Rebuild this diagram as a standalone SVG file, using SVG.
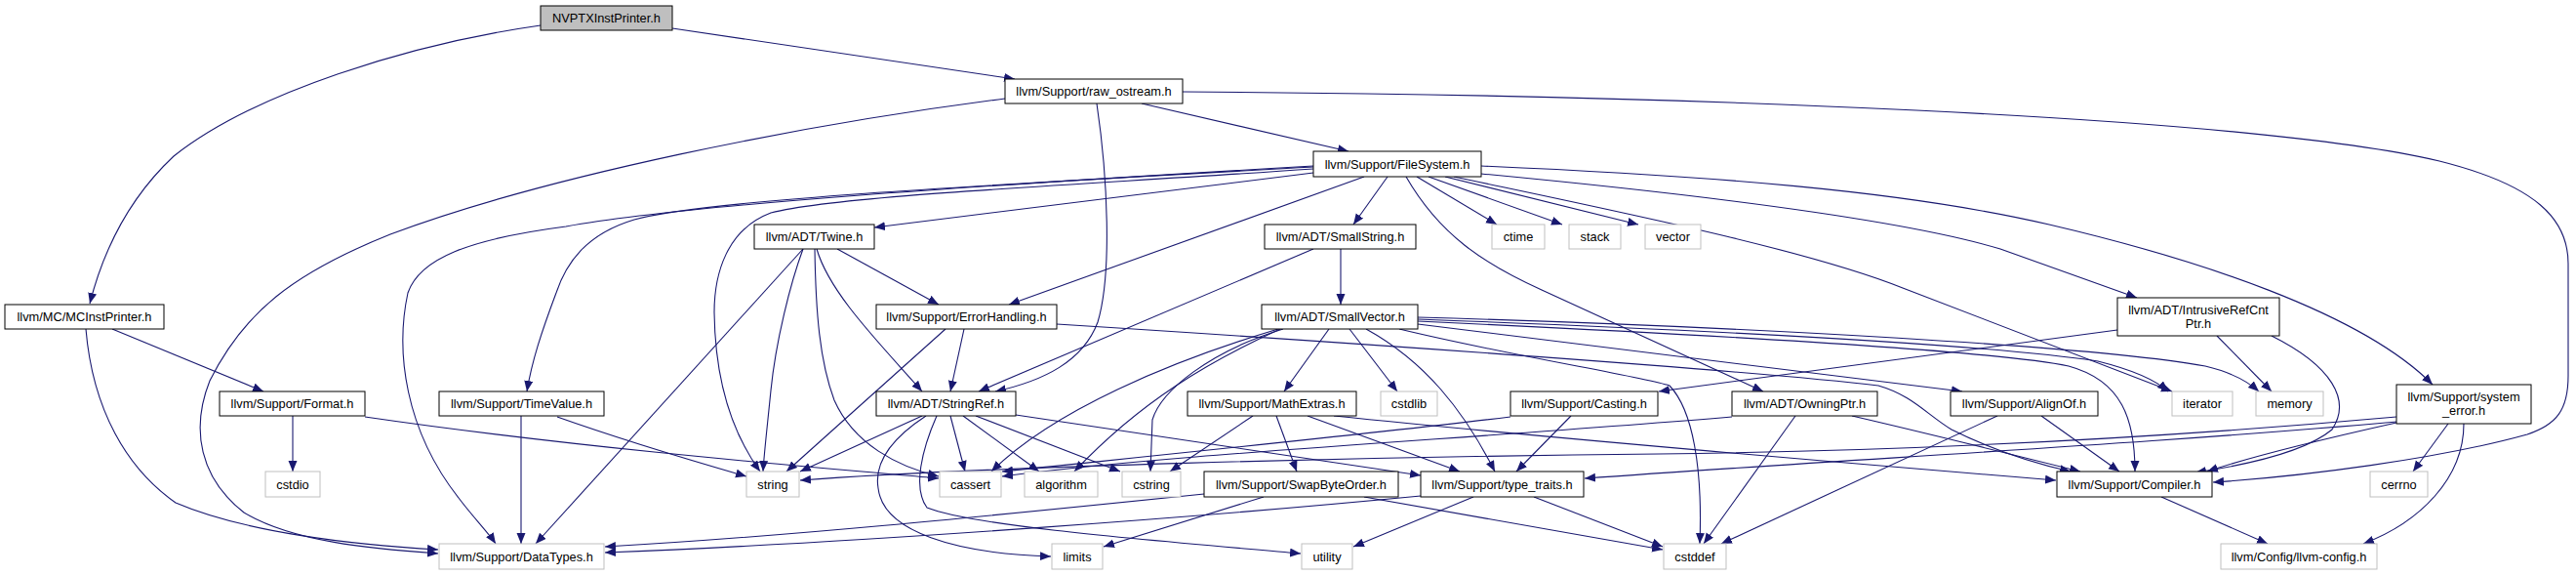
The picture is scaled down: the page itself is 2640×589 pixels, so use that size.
<svg xmlns="http://www.w3.org/2000/svg" width="2640" height="589" viewBox="0 0 2640 589">
<style>
.e{fill:none;stroke:#191970;stroke-width:1.1;marker-end:url(#a)}
.n rect{fill:#fff;stroke:#000;stroke-width:1}
.g rect{fill:#fff;stroke:#bfbfbf;stroke-width:1}
.r rect{fill:#bfbfbf;stroke:#000;stroke-width:1}
text{font-family:"Liberation Sans",Arial,sans-serif;font-size:12.8px;text-anchor:middle;fill:#000}
</style>
<defs>
<marker id="a" markerUnits="userSpaceOnUse" markerWidth="12" markerHeight="10" refX="11" refY="4.5" orient="auto">
<path d="M0,0 L11,4.5 L0,9 z" fill="#191970"/>
</marker>
</defs>
<rect width="2640" height="589" fill="#fff"/>
<g id="edges">
<path class="e" d="M554,26 C420,45 260,95 178,160 C130,205 105,260 92,311"/>
<path class="e" d="M689,29 L1040,81"/>
<path class="e" d="M1030,101 C820,128 560,180 400,240 C300,280 250,320 215,390 C195,440 205,490 250,525 C300,555 380,562 449,567"/>
<path class="e" d="M1124,106 C1135,180 1140,280 1125,330 C1110,370 1070,390 1020,401"/>
<path class="e" d="M1170,106 L1382,155"/>
<path class="e" d="M1212,94 C1700,97 2300,118 2500,165 C2600,190 2632,225 2632,270 L2632,385 C2632,420 2620,435 2590,445 C2500,470 2360,488 2268,494"/>
<path class="e" d="M115,337 L270,401"/>
<path class="e" d="M88,337 C95,420 130,480 180,515 C250,545 360,558 449,563"/>
<path class="e" d="M300,426 L300,483"/>
<path class="e" d="M374,427 C600,460 850,480 962,490"/>
<path class="e" d="M534,426 L534,557"/>
<path class="e" d="M571,427 C650,455 720,475 765,488"/>
<path class="e" d="M1346,170 C1000,190 700,210 580,232 C480,245 430,265 418,300 C405,360 415,440 470,510 C485,530 500,545 508,557"/>
<path class="e" d="M1346,171 C1000,190 720,205 650,225 C600,240 580,270 570,300 C555,340 545,370 540,401"/>
<path class="e" d="M1346,173 C1100,190 860,200 790,218 C745,235 732,280 732,320 C733,400 755,450 779,483"/>
<path class="e" d="M1346,177 L896,233"/>
<path class="e" d="M1398,181 L1034,312"/>
<path class="e" d="M1422,181 L1387,230"/>
<path class="e" d="M1452,181 L1534,230"/>
<path class="e" d="M1464,181 L1601,230"/>
<path class="e" d="M1481,181 L1679,230"/>
<path class="e" d="M1441,181 C1475,240 1520,270 1580,297 L1807,401"/>
<path class="e" d="M1490,181 C1650,215 1850,255 1950,295 L2226,401"/>
<path class="e" d="M1518,178 C1750,200 1950,225 2050,255 L2190,305"/>
<path class="e" d="M1518,170 C1750,180 1950,195 2100,230 C2250,265 2420,320 2493,394"/>
<path class="e" d="M823,255 C810,290 795,350 790,400 C786,440 783,465 782,483"/>
<path class="e" d="M823,255 L549,557"/>
<path class="e" d="M835,255 C836,320 840,370 855,410 C875,455 920,478 962,488"/>
<path class="e" d="M837,255 C850,300 900,350 945,401"/>
<path class="e" d="M858,255 L962,312"/>
<path class="e" d="M969,337 L806,483"/>
<path class="e" d="M988,337 L974,401"/>
<path class="e" d="M1083,332 C1400,352 1800,380 1925,395 C1960,405 1975,425 2000,440 C2050,465 2100,478 2122,483"/>
<path class="e" d="M1374,255 L1374,312"/>
<path class="e" d="M1346,255 L1003,401"/>
<path class="e" d="M1310,337 C1200,370 1080,420 1016,483"/>
<path class="e" d="M1312,337 C1240,370 1170,410 1101,483"/>
<path class="e" d="M1315,337 C1240,360 1190,400 1181,430 L1179,483"/>
<path class="e" d="M1362,337 L1316,401"/>
<path class="e" d="M1383,337 L1432,401"/>
<path class="e" d="M1400,337 C1460,370 1500,420 1532,483"/>
<path class="e" d="M1434,337 C1550,365 1680,385 1711,395 C1735,420 1745,480 1742,557"/>
<path class="e" d="M1453,332 L2011,401"/>
<path class="e" d="M1453,327 C1800,340 2050,355 2150,370 C2190,380 2210,390 2222,401"/>
<path class="e" d="M1453,325 C1800,335 2150,355 2260,375 C2290,382 2305,392 2315,401"/>
<path class="e" d="M1453,329 C1800,345 2050,360 2120,375 C2175,390 2188,430 2188,483"/>
<path class="e" d="M1284,426 L1199,483"/>
<path class="e" d="M1308,426 L1329,483"/>
<path class="e" d="M1340,426 L1496,483"/>
<path class="e" d="M1367,426 C1600,450 1900,475 2107,492"/>
<path class="e" d="M945,426 L820,483"/>
<path class="e" d="M974,426 L989,483"/>
<path class="e" d="M987,426 L1065,483"/>
<path class="e" d="M1000,426 L1148,483"/>
<path class="e" d="M949,426 C920,445 895,470 900,500 C905,545 980,567 1077,570"/>
<path class="e" d="M960,426 C945,460 935,500 950,520 C1000,540 1200,555 1333,567"/>
<path class="e" d="M1041,425 L1456,487"/>
<path class="e" d="M1610,426 L1554,483"/>
<path class="e" d="M1548,427 C1400,445 1200,465 1027,483"/>
<path class="e" d="M1775,427 C1500,450 1200,465 1027,488"/>
<path class="e" d="M1840,426 L1746,557"/>
<path class="e" d="M1898,426 C1980,445 2060,465 2132,483"/>
<path class="e" d="M2047,426 L1764,557"/>
<path class="e" d="M2092,426 L2172,483"/>
<path class="e" d="M1572,509 L1704,560"/>
<path class="e" d="M1510,509 L1387,560"/>
<path class="e" d="M1456,508 C1250,528 900,555 620,566"/>
<path class="e" d="M1398,509 L1704,563"/>
<path class="e" d="M1295,509 L1131,560"/>
<path class="e" d="M1234,506 C1000,530 800,550 620,560"/>
<path class="e" d="M2170,338 L1700,401"/>
<path class="e" d="M2272,344 L2328,401"/>
<path class="e" d="M2328,344 C2390,375 2410,410 2390,440 C2360,465 2290,478 2250,484"/>
<path class="e" d="M2456,427 C2200,450 1950,462 1700,465 C1400,468 1000,478 820,492"/>
<path class="e" d="M2456,432 C2200,455 1900,470 1624,490"/>
<path class="e" d="M2456,433 C2380,450 2300,470 2262,483"/>
<path class="e" d="M2509,434 L2473,483"/>
<path class="e" d="M2525,434 C2525,490 2480,535 2422,557"/>
<path class="e" d="M2215,509 L2324,557"/>
</g>
<g id="n0" class="r"><rect x="554" y="6" width="135" height="25"/><text x="621.5" y="23">NVPTXInstPrinter.h</text></g>
<g id="n1" class="n"><rect x="1030" y="81" width="182" height="25"/><text x="1121" y="98">llvm/Support/raw_ostream.h</text></g>
<g id="n2" class="n"><rect x="5" y="312" width="163" height="25"/><text x="86.5" y="329">llvm/MC/MCInstPrinter.h</text></g>
<g id="n3" class="n"><rect x="1346" y="155" width="172" height="26"/><text x="1432" y="172.5">llvm/Support/FileSystem.h</text></g>
<g id="n4" class="n"><rect x="773" y="230" width="123" height="25"/><text x="834.5" y="247">llvm/ADT/Twine.h</text></g>
<g id="n5" class="n"><rect x="1296" y="230" width="155" height="25"/><text x="1373.5" y="247">llvm/ADT/SmallString.h</text></g>
<g id="n6" class="g"><rect x="1529" y="230" width="54" height="25"/><text x="1556" y="247">ctime</text></g>
<g id="n7" class="g"><rect x="1608" y="230" width="53" height="25"/><text x="1634.5" y="247">stack</text></g>
<g id="n8" class="g"><rect x="1686" y="230" width="57" height="25"/><text x="1714.5" y="247">vector</text></g>
<g id="n9" class="n"><rect x="898" y="312" width="185" height="25"/><text x="990.5" y="329">llvm/Support/ErrorHandling.h</text></g>
<g id="n10" class="n"><rect x="1293" y="312" width="160" height="25"/><text x="1373" y="329">llvm/ADT/SmallVector.h</text></g>
<g id="n11" class="n"><rect x="2170" y="305" width="166" height="39"/><text x="2253" y="322">llvm/ADT/IntrusiveRefCnt</text><text x="2253" y="336">Ptr.h</text></g>
<g id="n12" class="n"><rect x="225" y="401" width="149" height="25"/><text x="299.5" y="418">llvm/Support/Format.h</text></g>
<g id="n13" class="n"><rect x="450" y="401" width="169" height="25"/><text x="534.5" y="418">llvm/Support/TimeValue.h</text></g>
<g id="n14" class="n"><rect x="898" y="401" width="143" height="25"/><text x="969.5" y="418">llvm/ADT/StringRef.h</text></g>
<g id="n15" class="n"><rect x="1217" y="401" width="173" height="25"/><text x="1303.5" y="418">llvm/Support/MathExtras.h</text></g>
<g id="n16" class="g"><rect x="1415" y="401" width="58" height="25"/><text x="1444" y="418">cstdlib</text></g>
<g id="n17" class="n"><rect x="1548" y="401" width="151" height="25"/><text x="1623.5" y="418">llvm/Support/Casting.h</text></g>
<g id="n18" class="n"><rect x="1775" y="401" width="149" height="25"/><text x="1849.5" y="418">llvm/ADT/OwningPtr.h</text></g>
<g id="n19" class="n"><rect x="1999" y="401" width="151" height="25"/><text x="2074.5" y="418">llvm/Support/AlignOf.h</text></g>
<g id="n20" class="g"><rect x="2226" y="401" width="62" height="25"/><text x="2257" y="418">iterator</text></g>
<g id="n21" class="g"><rect x="2312" y="401" width="69" height="25"/><text x="2346.5" y="418">memory</text></g>
<g id="n22" class="n"><rect x="2456" y="394" width="138" height="40"/><text x="2525" y="411">llvm/Support/system</text><text x="2525" y="425">_error.h</text></g>
<g id="n23" class="g"><rect x="272" y="483" width="56" height="26"/><text x="300" y="500.5">cstdio</text></g>
<g id="n24" class="g"><rect x="765" y="483" width="54" height="26"/><text x="792" y="500.5">string</text></g>
<g id="n25" class="g"><rect x="963" y="483" width="63" height="26"/><text x="994.5" y="500.5">cassert</text></g>
<g id="n26" class="g"><rect x="1050" y="483" width="75" height="26"/><text x="1087.5" y="500.5">algorithm</text></g>
<g id="n27" class="g"><rect x="1150" y="483" width="60" height="26"/><text x="1180" y="500.5">cstring</text></g>
<g id="n28" class="n"><rect x="1234" y="483" width="199" height="26"/><text x="1333.5" y="500.5">llvm/Support/SwapByteOrder.h</text></g>
<g id="n29" class="n"><rect x="1456" y="483" width="167" height="26"/><text x="1539.5" y="500.5">llvm/Support/type_traits.h</text></g>
<g id="n30" class="n"><rect x="2108" y="483" width="159" height="26"/><text x="2187.5" y="500.5">llvm/Support/Compiler.h</text></g>
<g id="n31" class="g"><rect x="2429" y="483" width="59" height="26"/><text x="2458.5" y="500.5">cerrno</text></g>
<g id="n32" class="g"><rect x="450" y="557" width="169" height="26"/><text x="534.5" y="574.5">llvm/Support/DataTypes.h</text></g>
<g id="n33" class="g"><rect x="1078" y="557" width="52" height="26"/><text x="1104" y="574.5">limits</text></g>
<g id="n34" class="g"><rect x="1334" y="557" width="52" height="26"/><text x="1360" y="574.5">utility</text></g>
<g id="n35" class="g"><rect x="1705" y="557" width="64" height="26"/><text x="1737" y="574.5">cstddef</text></g>
<g id="n36" class="g"><rect x="2276" y="557" width="160" height="26"/><text x="2356" y="574.5">llvm/Config/llvm-config.h</text></g>
</svg>
